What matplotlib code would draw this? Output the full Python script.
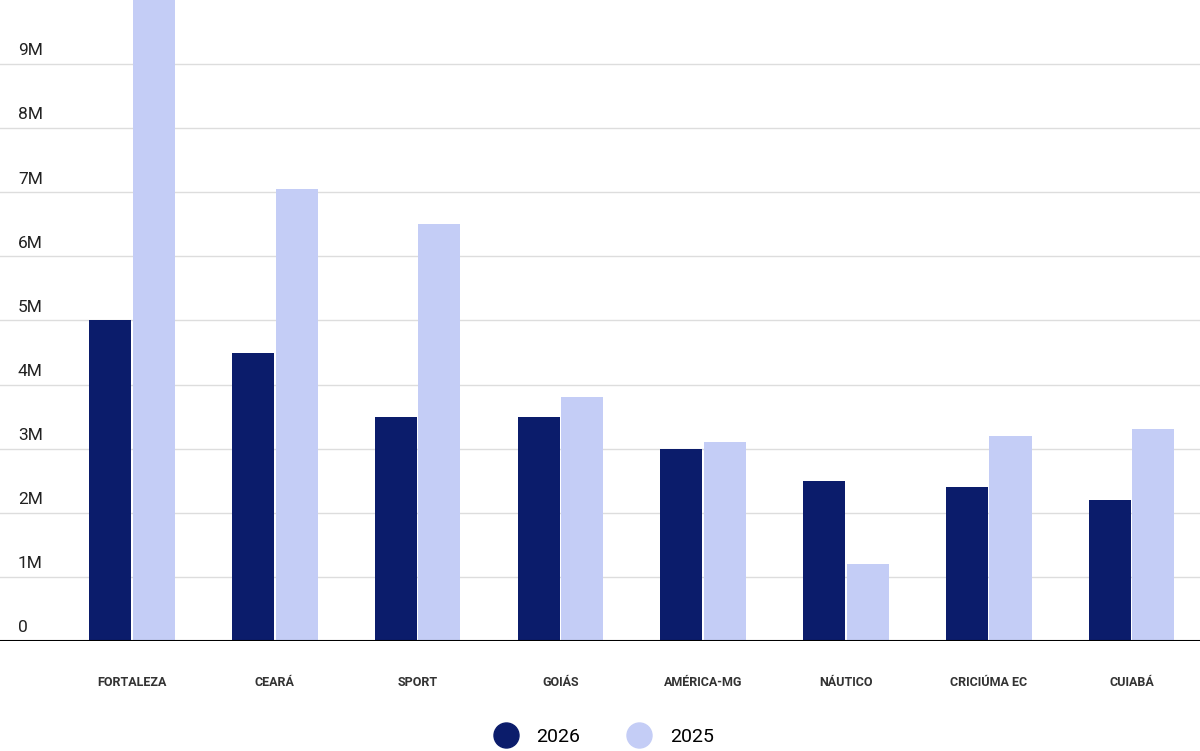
import matplotlib.pyplot as plt
from matplotlib.lines import Line2D
import numpy as np

plt.rcParams['font.family'] = ['Roboto', 'DejaVu Sans']

teams = ["FORTALEZA", "CEARÁ", "SPORT", "GOIÁS", "AMÉRICA-MG", "NÁUTICO", "CRICIÚMA EC", "CUIABÁ"]
values_2026 = [5.0, 4.5, 3.5, 3.5, 3.0, 2.5, 2.4, 2.2]
values_2025 = [10.0, 7.05, 6.5, 3.8, 3.1, 1.2, 3.2, 3.3]
yticks = [0, 1, 2, 3, 4, 5, 6, 7, 8, 9]

dark = "#0b1c6b"
light = "#c4cdf6"

fig = plt.figure(figsize=(12, 7.51), dpi=100)
ax = fig.add_axes([0, 110 / 751, 1, 641 / 751])

x = np.arange(len(teams))
w = 0.295
ax.bar(x - w / 2 - 0.005, values_2026, w, color=dark, zorder=2)
ax.bar(x + w / 2 + 0.005, values_2025, w, color=light, zorder=2)

ax.set_xlim(-0.925, 7.48)
ax.set_ylim(0, 10)
for t in yticks:
    ax.axhline(t, color="#dddddd", lw=1, zorder=1)
    ax.text(0.015, t + 0.09, f"{t}M" if t else "0", transform=ax.get_yaxis_transform(),
            fontsize=12.5, color="#222222", va="bottom", ha="left")
ax.axhline(0, color="black", lw=1.5, zorder=3)

for s in ax.spines.values():
    s.set_visible(False)
ax.set_xticks(x)
ax.set_xticklabels(teams, fontsize=9, fontweight="bold", color="#333333")
ax.tick_params(axis="x", length=0, pad=25)
ax.set_yticks([])

handles = [Line2D([], [], marker="o", ls="", ms=18, color=dark),
           Line2D([], [], marker="o", ls="", ms=18, color=light)]
fig.legend(handles, ["2026", "2025"], loc="center", bbox_to_anchor=(0.5, 14 / 751),
           ncol=2, frameon=False, fontsize=14, handletextpad=0.6, columnspacing=2)

fig.savefig("out.png")
